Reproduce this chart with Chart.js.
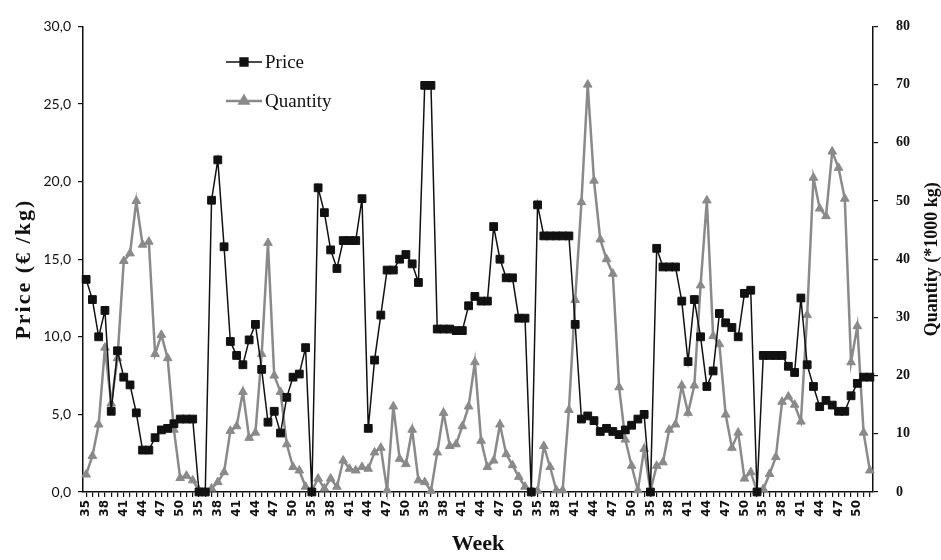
<!DOCTYPE html>
<html>
<head>
<meta charset="utf-8">
<script src="https://cdn.jsdelivr.net/npm/chart.js@4.4.1/dist/chart.umd.min.js"></script>
<style>
  html, body { margin: 0; padding: 0; background: #fff; }
</style>
</head>
<body>
<canvas id="chart" width="941" height="560"></canvas>
<script>
// Weeks 35..52 repeated for each season on the x axis
const weekNumbers = [35, 36, 37, 38, 39, 40, 41, 42, 43, 44, 45, 46, 47, 48, 49, 50, 51, 52];
const seasonCount = 7;
const labelledWeeks = [35, 38, 41, 44, 47, 50];

const priceTicks = [0, 5, 10, 15, 20, 25, 30];
const quantityTicks = [0, 10, 20, 30, 40, 50, 60, 70, 80];

// Price (EUR/kg), one row per season
const price = [
  13.7, 12.4, 10.0, 11.7, 5.2, 9.1, 7.4, 6.9, 5.1, 2.7, 2.7, 3.5, 4.0, 4.1, 4.4, 4.7, 4.7, 4.7,
  0, 0, 18.8, 21.4, 15.8, 9.7, 8.8, 8.2, 9.8, 10.8, 7.9, 4.5, 5.2, 3.8, 6.1, 7.4, 7.6, 9.3,
  0, 19.6, 18.0, 15.6, 14.4, 16.2, 16.2, 16.2, 18.9, 4.1, 8.5, 11.4, 14.3, 14.3, 15.0, 15.3, 14.7, 13.5,
  26.2, 26.2, 10.5, 10.5, 10.5, 10.4, 10.4, 12.0, 12.6, 12.3, 12.3, 17.1, 15.0, 13.8, 13.8, 11.2, 11.2, 0,
  18.5, 16.5, 16.5, 16.5, 16.5, 16.5, 10.8, 4.7, 4.9, 4.6, 3.9, 4.1, 3.9, 3.7, 4.0, 4.3, 4.7, 5.0,
  0, 15.7, 14.5, 14.5, 14.5, 12.3, 8.4, 12.4, 10.0, 6.8, 7.8, 11.5, 10.9, 10.6, 10.0, 12.8, 13.0, 0,
  8.8, 8.8, 8.8, 8.8, 8.1, 7.7, 12.5, 8.2, 6.8, 5.5, 5.9, 5.6, 5.2, 5.2, 6.2, 7.0, 7.4, 7.4
];

// Quantity (*1000 kg), one row per season
const quantity = [
  3.0, 6.2, 11.6, 24.8, 15.2, 23.0, 39.7, 41.0, 50.0, 42.5, 43.0, 23.7, 27.0, 23.0, 10.7, 2.4, 2.8, 2.0,
  0.3, 0, 0.6, 1.7, 3.4, 10.5, 11.3, 17.2, 9.3, 10.2, 23.7, 42.8, 20.0, 17.2, 8.2, 4.3, 3.7, 0.9,
  0.3, 2.3, 0.6, 2.3, 0.9, 5.4, 4.0, 3.7, 4.3, 4.0, 6.8, 7.6, 0.3, 14.7, 5.7, 4.8, 10.7, 2.0,
  1.7, 0.2, 6.8, 13.6, 7.9, 8.2, 11.3, 14.7, 22.3, 8.8, 4.3, 5.4, 11.6, 6.5, 4.6, 2.6, 0.9, 0.2,
  0.2, 7.9, 4.3, 0.3, 0.3, 14.1, 33.0, 49.8, 70.0, 53.5, 43.4, 40.0, 37.5, 18.0, 9.0, 4.5, 0.3, 7.4,
  0.2, 4.5, 5.1, 10.7, 11.6, 18.3, 13.6, 18.3, 35.5, 50.1, 26.8, 25.4, 13.3, 7.6, 10.2, 2.3, 3.4, 0.2,
  0.5, 3.1, 6.0, 15.5, 16.4, 15.0, 12.1, 30.4, 54.0, 48.7, 47.4, 58.5, 55.7, 50.4, 22.3, 28.5, 10.2, 3.7
];

const seriesNames = ['Price', 'Quantity'];
const axisTitles = { x: 'Week', left: 'Price (€ /kg)', right: 'Quantity (*1000 kg)' };

const weekLabels = [];
for (let s = 0; s < seasonCount; s++) {
  weekNumbers.forEach(w => weekLabels.push(String(w)));
}

const INK = '#111';
const GREY = '#8a8a8a';
const SERIF = '"Liberation Serif", "DejaVu Serif", serif';

function drawVerticalTitle(ctx, text, x, y, font, spacing) {
  ctx.save();
  ctx.fillStyle = INK;
  ctx.font = font;
  ctx.letterSpacing = spacing;
  ctx.textAlign = 'center';
  ctx.textBaseline = 'middle';
  ctx.translate(x, y);
  ctx.rotate(-Math.PI / 2);
  ctx.fillText(text, 0, 0);
  ctx.restore();
}

// Both y titles (read bottom-to-top) and the in-plot legend
const overlayPlugin = {
  id: 'overlay',
  afterDraw(chart) {
    const { ctx, chartArea } = chart;
    const midY = (chartArea.top + chartArea.bottom) / 2;

    drawVerticalTitle(ctx, axisTitles.left, 24, midY + 10, `bold 22px ${SERIF}`, '2px');
    drawVerticalTitle(ctx, axisTitles.right, chart.width - 9, midY, `bold 18px ${SERIF}`, '0px');

    const x0 = chartArea.left + 143;
    chart.data.datasets.forEach((ds, i) => {
      const y = 62 + i * 39;
      ctx.save();
      ctx.strokeStyle = ds.borderColor;
      ctx.lineWidth = ds.borderWidth;
      ctx.beginPath();
      ctx.moveTo(x0, y);
      ctx.lineTo(x0 + 36, y);
      ctx.stroke();
      ctx.fillStyle = ds.pointBackgroundColor;
      ctx.strokeStyle = ds.pointBorderColor;
      Chart.helpers.drawPoint(ctx, {
        pointStyle: ds.pointStyle, radius: ds.pointRadius, borderWidth: 1, rotation: 0
      }, x0 + 18, y);
      ctx.fillStyle = INK;
      ctx.font = `19px ${SERIF}`;
      ctx.textAlign = 'left';
      ctx.textBaseline = 'middle';
      ctx.fillText(ds.label, x0 + 39, y + 1);
      ctx.restore();
    });
  }
};

const axisLine = { display: true, color: INK, width: 1.5 };
const outsideTicks = { display: true, drawOnChartArea: false, drawTicks: true, tickLength: 5, color: INK, lineWidth: 1.2 };

new Chart(document.getElementById('chart'), {
  type: 'line',
  data: {
    labels: weekLabels,
    datasets: [
      {
        label: seriesNames[0],
        data: price,
        yAxisID: 'y',
        order: 0,
        borderColor: INK,
        borderWidth: 1.5,
        pointStyle: 'rect',
        pointRadius: 5.5,
        pointBackgroundColor: INK,
        pointBorderColor: INK,
        pointBorderWidth: 1,
        tension: 0,
        clip: false
      },
      {
        label: seriesNames[1],
        data: quantity,
        yAxisID: 'y1',
        order: 1,
        borderColor: GREY,
        borderWidth: 2.5,
        pointStyle: 'triangle',
        pointRadius: 5,
        pointBackgroundColor: GREY,
        pointBorderColor: GREY,
        pointBorderWidth: 1,
        tension: 0,
        clip: false
      }
    ]
  },
  options: {
    responsive: false,
    animation: false,
    devicePixelRatio: 1,
    layout: { padding: { top: 18, left: 0, right: 0, bottom: 0 } },
    plugins: {
      legend: { display: false },
      tooltip: { enabled: false }
    },
    scales: {
      x: {
        offset: true,
        border: axisLine,
        grid: outsideTicks,
        afterFit(scale) { scale.height = 68; },
        ticks: {
          autoSkip: false,
          minRotation: 90,
          maxRotation: 90,
          padding: 3,
          color: INK,
          font: { family: '"DejaVu Sans", sans-serif', size: 12, weight: 'bold' },
          callback(value) {
            const w = this.getLabelForValue(value);
            return labelledWeeks.includes(Number(w)) ? w : '';
          }
        },
        title: {
          display: true,
          text: axisTitles.x,
          color: INK,
          font: { family: SERIF, size: 22, weight: 'bold' },
          padding: { top: 0, bottom: 2 }
        }
      },
      y: {
        position: 'left',
        min: priceTicks[0],
        max: priceTicks[priceTicks.length - 1],
        border: axisLine,
        grid: outsideTicks,
        afterFit(scale) { scale.width = 83; },
        afterBuildTicks(scale) { scale.ticks = priceTicks.map(v => ({ value: v })); },
        ticks: {
          padding: 7,
          color: INK,
          font: { family: 'Lato, "Open Sans", sans-serif', size: 14 },
          callback: v => v.toFixed(1).replace('.', ',')
        }
      },
      y1: {
        position: 'right',
        min: quantityTicks[0],
        max: quantityTicks[quantityTicks.length - 1],
        border: axisLine,
        grid: outsideTicks,
        afterFit(scale) { scale.width = 68; },
        afterBuildTicks(scale) { scale.ticks = quantityTicks.map(v => ({ value: v })); },
        ticks: {
          padding: 18,
          color: INK,
          font: { family: SERIF, size: 14, weight: 'bold' }
        }
      }
    }
  },
  plugins: [overlayPlugin]
});
</script>
</body>
</html>
